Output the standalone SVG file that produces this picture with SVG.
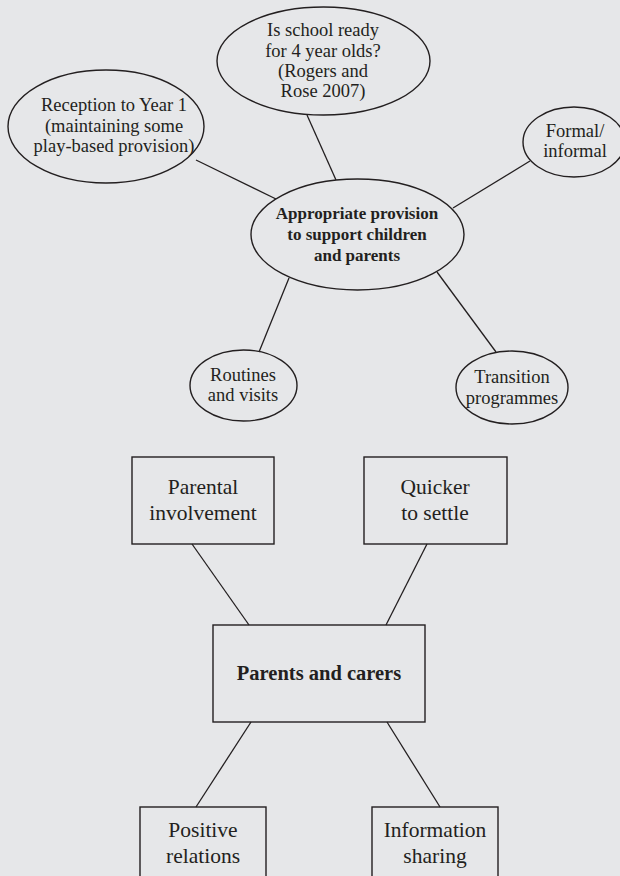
<svg xmlns="http://www.w3.org/2000/svg" width="620" height="876" viewBox="0 0 620 876">
<style>
.shape{fill:none;stroke:#231f20;stroke-width:1.4}
.ln{stroke:#231f20;stroke-width:1.3;fill:none}
text{fill:#231f20;text-anchor:middle}
.t{font-size:18.5px}
.tb{font-size:21.5px}
.b{font-weight:bold;font-size:17px}
.bb{font-weight:bold;font-size:20.5px}
</style>
<rect x="0" y="0" width="620" height="876" fill="#e6e7e9"/>
<g id="connectors">
<line class="ln" x1="196" y1="160" x2="276" y2="199"/>
<line class="ln" x1="307" y1="115" x2="336" y2="180"/>
<line class="ln" x1="530" y1="161" x2="453" y2="208"/>
<line class="ln" x1="289" y1="278" x2="259" y2="352"/>
<line class="ln" x1="437" y1="272" x2="496" y2="352"/>
<line class="ln" x1="192" y1="544" x2="249" y2="625"/>
<line class="ln" x1="427" y1="544" x2="386" y2="625"/>
<line class="ln" x1="251" y1="722" x2="196" y2="807"/>
<line class="ln" x1="387" y1="722" x2="440" y2="807"/>
</g>
<g font-family="'Liberation Serif', 'Times New Roman', serif">
<g id="node-school-ready">
<ellipse class="shape" cx="323.5" cy="61" rx="106.5" ry="54"/>
<text class="t" x="323" y="36">Is school ready</text>
<text class="t" x="323" y="57">for 4 year olds?</text>
<text class="t" x="323" y="77">(Rogers and</text>
<text class="t" x="323" y="97">Rose 2007)</text>
</g>
<g id="node-reception">
<ellipse class="shape" cx="106" cy="126.5" rx="98" ry="56.5"/>
<text class="t" x="114" y="111">Reception to Year 1</text>
<text class="t" x="114" y="132">(maintaining some</text>
<text class="t" x="114" y="152">play-based provision)</text>
</g>
<g id="node-formal">
<ellipse class="shape" cx="574" cy="142" rx="51" ry="35"/>
<text class="t" x="575" y="137">Formal/</text>
<text class="t" x="575" y="157">informal</text>
</g>
<g id="node-center">
<ellipse class="shape" cx="357.5" cy="234.5" rx="106.5" ry="55.5"/>
<text class="b" x="357" y="219">Appropriate provision</text>
<text class="b" x="357" y="240">to support children</text>
<text class="b" x="357" y="261">and parents</text>
</g>
<g id="node-routines">
<ellipse class="shape" cx="243.5" cy="385.5" rx="53.5" ry="35.5"/>
<text class="t" x="243" y="381">Routines</text>
<text class="t" x="243" y="401">and visits</text>
</g>
<g id="node-transition">
<ellipse class="shape" cx="512" cy="387.5" rx="56" ry="36.5"/>
<text class="t" x="512" y="383">Transition</text>
<text class="t" x="512" y="404">programmes</text>
</g>
<g id="node-parental">
<rect class="shape" x="132" y="457" width="142" height="87"/>
<text class="tb" x="203" y="494">Parental</text>
<text class="tb" x="203" y="520">involvement</text>
</g>
<g id="node-quicker">
<rect class="shape" x="364" y="457" width="143" height="87"/>
<text class="tb" x="435" y="494">Quicker</text>
<text class="tb" x="435" y="520">to settle</text>
</g>
<g id="node-parents">
<rect class="shape" x="213" y="625" width="212" height="97"/>
<text class="bb" x="319" y="680">Parents and carers</text>
</g>
<g id="node-positive">
<rect class="shape" x="140" y="807" width="126" height="90"/>
<text class="tb" x="203" y="837">Positive</text>
<text class="tb" x="203" y="863">relations</text>
</g>
<g id="node-information">
<rect class="shape" x="372" y="807" width="126" height="90"/>
<text class="tb" x="435" y="837">Information</text>
<text class="tb" x="435" y="863">sharing</text>
</g>
</g>
</svg>
